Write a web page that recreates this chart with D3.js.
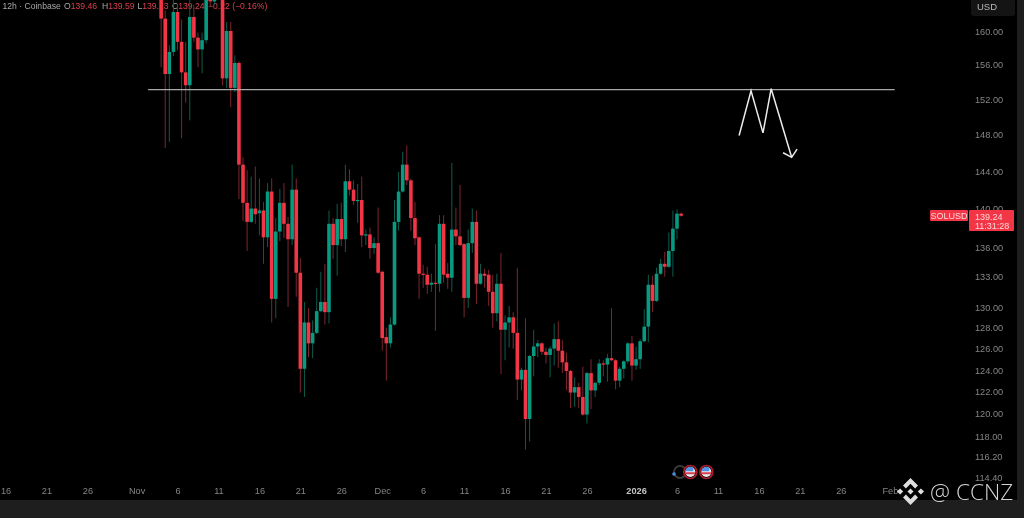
<!DOCTYPE html>
<html><head><meta charset="utf-8">
<style>
html,body{margin:0;padding:0;background:#000;overflow:hidden}
svg{display:block;filter:blur(0.35px)}
text{font-family:"Liberation Sans",Arial,sans-serif}
</style>
<script src="https://cdn.jsdelivr.net/npm/d3@7/dist/d3.min.js"></script>
</head><body><svg id="c" width="1024" height="518"></svg>
<script>
const firstCandle = "2025-11-04T00:00:00Z";
const opens = [167,161.5,154.9,157.5,162.3,158.7,155.1,153.6,161.7,159.2,157.8,158.9,166.3,163.6,165.5,165,154.4,160,153.3,156.2,144.7,140.6,138.6,140,139.5,139.8,137,141.8,130.8,137.6,140.6,138.4,136.8,142,133.4,124.1,128.5,126.5,127.5,129.6,130.5,129.5,138.4,136.2,138.9,136.8,142.9,142,140.8,140.9,137.2,137.3,135.9,136.4,133.5,127.1,126.5,128.3,138.6,141.8,144.7,143,139,137,133.3,133.2,132.2,132.4,132.3,138.4,133.3,132.9,137.8,137.1,136.3,130.9,136.4,138.6,132.3,133.3,133.2,131.5,129.4,132.3,127.8,128.5,129,127.5,123.1,124,119.5,125.3,126.2,126.5,125.7,125.4,126,126.9,125.8,124.7,123.9,121.9,122.4,121.5,119.9,123.7,122.1,122.8,124.6,124.5,125.1,124.9,123,124.1,124.8,126.5,124.4,125,126.7,128.1,132.2,130.6,133.3,134.3,134,135.6,137.9,139.46];
const highs = [168,162.5,158.3,163.8,163.2,161.4,158.7,164,163.2,159.8,159.8,167,167,166,166,166,161.1,161.1,157.1,156.4,145.5,144.1,143.4,144.5,143.2,140.7,142.7,143.2,139,142.1,142.7,139.1,144.7,143.2,134.9,130.5,129.9,128.7,131.9,133.5,134.3,139.8,139,140.5,140.6,144.7,144.2,143,142.6,143.4,137.8,138,137,140.1,133.6,128,129,140.9,143.9,146.1,146.8,143.2,140.7,137.1,134.2,134,133.3,136.3,139.3,139.3,134.4,144.9,140.1,142.5,136.4,137.8,140,139.8,134.3,133.8,133.7,133.2,133.3,135.4,129.2,130.1,129.5,133.9,124.2,128.9,125.4,127.8,126.8,126.6,126.1,126.2,128.4,128.6,126.8,125.6,124,123.3,122.8,124.3,123.8,125,122.9,125,124.9,125.5,129.9,125,124.3,124.9,126.6,127.2,126.2,126.9,129.8,133.2,133.1,133.9,134.8,135.5,137.5,139.8,139.9,139.59];
const lows = [155.7,146.5,147.2,157,157.7,147.6,151.6,149.6,158.7,155.7,155,158.5,163,163.2,164.5,153.6,153.3,151.1,152.8,141,138.7,135.6,138.5,138.4,137.2,134.3,136,128.5,128.9,136.6,136.9,130,136.2,131,121.9,121.5,125.2,125.1,127.4,129.5,128.3,128.4,134.8,133.1,136.1,135.5,141.4,140.4,138.5,136,136.2,134.8,135.3,133.3,125.8,123,126.1,128.2,137.7,141.7,142.5,137.7,136.2,130.8,131.9,131.3,131.5,127.7,131.5,132.4,131.8,131.5,136.2,136.1,129,129.9,135.4,130.3,132.2,131.9,130.1,128,128.6,123.6,124.9,126.1,126,121.2,122.1,116.8,117.5,123.4,125.2,125.4,124.6,123.3,124.4,124.2,123.7,122.1,120.5,120.6,120.5,119.8,119.1,120.4,121.5,122.6,123.4,122.9,124.8,122.2,122.4,123.2,124.6,123,124,124.1,126.6,126.6,129.5,130.5,133.2,133,133.9,133,136.8,139.13];
const closes = [161.5,154.9,157.5,162.3,158.7,155.1,153.6,161.7,159.2,157.8,158.9,165.6,163.6,165.5,164.9,154.4,160,153.3,156.2,144.7,140.6,138.6,140,139.4,139.8,137,141.8,130.8,137.6,140.6,138.4,136.8,142,133.4,124.1,128.5,126.5,127.5,129.6,130.5,129.5,138.4,136.2,138.9,136.8,142.9,142,140.8,140.9,137.2,137.3,135.9,136.4,133.4,127,126.5,128.3,138.6,141.8,144.7,143,139,136.9,133.3,133.2,132.2,132.4,132.3,138.4,133.2,132.9,137.8,137.1,136.2,130.9,136.4,138.6,132.3,133.3,133.1,131.5,129.4,132.3,127.8,128.5,129,127.5,123.1,124,119.5,125.3,126.2,126.5,125.7,125.4,126,126.9,125.8,124.7,123.9,121.9,122.4,121.5,119.9,123.7,122.1,122.8,124.6,124.5,125.1,124.9,123,124.1,124.8,126.5,124.4,125,126.7,128.1,132.2,130.6,133.3,134.3,134,135.6,137.9,139.46,139.24];

const priceTicks = [160,156,152,148,144,140,136,133,130,128,126,124,122,120,118,116.2,114.4];
const timeTicks = ["2025-10-16","2025-10-21","2025-10-26","2025-11-01","2025-11-06","2025-11-11","2025-11-16","2025-11-21","2025-11-26","2025-12-01","2025-12-06","2025-12-11","2025-12-16","2025-12-21","2025-12-26","2026-01-01","2026-01-06","2026-01-11","2026-01-16","2026-01-21","2026-01-26","2026-02-01"];
const timeLabels = ["16","21","26","Nov","6","11","16","21","26","Dec","6","11","16","21","26","2026","6","11","16","21","26","Feb"];

const levelPrice = 153.1;
const levelDates = ["2025-11-02T10:00:00Z","2026-02-01T14:00:00Z"];
const patternDates = ["2026-01-13T14:00:00Z","2026-01-15T01:00:00Z","2026-01-16T12:00:00Z","2026-01-17T12:00:00Z","2026-01-20T00:00:00Z"];
const patternPrices = [147.9,152.95,148.2,153.2,145.5];
const headDates = ["2026-01-18T23:00:00Z","2026-01-20T00:00:00Z","2026-01-20T16:00:00Z"];
const headPrices = [146,145.5,146.4];
const eventDates = ["2026-01-07T15:00:00Z","2026-01-09T14:00:00Z"];

const UP="#089981", DOWN="#f23645", UPW="#0c5c4d", DOWNW="#7d2530";
const svg=d3.select("#c");
svg.append("rect").attr("width",1024).attr("height",518).attr("fill","#000");

const x=d3.scaleUtc().domain([new Date("2025-11-06T00:00:00Z"),new Date("2026-01-06T00:00:00Z")]).range([177.5,677]);
const y=d3.scaleLog().domain([114.4,160]).range([477,31]);

// legend under the candles
svg.append("text").attr("x",2.5).attr("y",9).attr("font-size",8.6).attr("fill","#a8a8a8").text("12h · Coinbase");
[["O","139.46",64],["H","139.59",102],["L","139.13",137.5],["C","139.24",172]].forEach(d=>{
  const t=svg.append("text").attr("x",d[2]).attr("y",9).attr("font-size",8.6);
  t.append("tspan").attr("fill","#a8a8a8").text(d[0]);
  t.append("tspan").attr("fill","#d9404e").text(d[1]);
});
svg.append("text").attr("x",208).attr("y",9).attr("font-size",8.6).attr("fill","#d9404e").text("−0.22 (−0.16%)");

const t0=new Date(firstCandle);
const candleDate=i=>d3.utcHour.offset(t0,i*12);
const idx=d3.range(opens.length);
const g=svg.append("g");
g.selectAll(".w").data(idx).join("rect").attr("class","w")
 .attr("x",i=>x(candleDate(i))-0.5).attr("width",1)
 .attr("y",i=>y(highs[i])).attr("height",i=>y(lows[i])-y(highs[i]))
 .attr("fill",i=>closes[i]>=opens[i]?UPW:DOWNW);
g.selectAll(".b").data(idx).join("rect").attr("class","b")
 .attr("x",i=>x(candleDate(i))-1.8).attr("width",3.6)
 .attr("y",i=>y(Math.max(opens[i],closes[i])))
 .attr("height",i=>Math.max(1.2,Math.abs(y(opens[i])-y(closes[i]))))
 .attr("fill",i=>closes[i]>=opens[i]?UP:DOWN);

// drawings
svg.append("line").attr("x1",x(new Date(levelDates[0]))).attr("x2",x(new Date(levelDates[1])))
 .attr("y1",y(levelPrice)).attr("y2",y(levelPrice)).attr("stroke","#a8a8a8").attr("stroke-width",1.3);
const ln=d3.line().x(d=>x(new Date(d[0]))).y(d=>y(d[1]));
svg.append("path").attr("d",ln(d3.zip(patternDates,patternPrices))).attr("fill","none").attr("stroke","#ececec").attr("stroke-width",1.5);
svg.append("path").attr("d",ln(d3.zip(headDates,headPrices))).attr("fill","none").attr("stroke","#ececec").attr("stroke-width",1.5);

// bottom and right chrome
svg.append("rect").attr("x",0).attr("y",500).attr("width",1024).attr("height",18).attr("fill","#1e1e1e");
svg.append("rect").attr("x",1017).attr("y",0).attr("width",7).attr("height",518).attr("fill","#1e1e1e");
svg.append("rect").attr("x",971).attr("y",-4).attr("width",44).attr("height",20).attr("rx",3).attr("fill","#141414");
svg.append("text").attr("x",977).attr("y",10).attr("font-size",9.5).attr("fill","#b8b8b8").text("USD");

// axes
const ya=d3.axisRight(y).tickValues(priceTicks).tickSize(0).tickPadding(0).tickFormat(d=>d.toFixed(2));
const yg=svg.append("g").attr("transform","translate(975,0.3)").call(ya);
yg.select(".domain").remove();
yg.selectAll("text").attr("font-size",9.2).attr("fill","#858585").style("font-family",'"Liberation Sans",Arial,sans-serif');
const tickDates=timeTicks.map(d=>new Date(d+"T00:00:00Z"));
const xa=d3.axisBottom(x).tickValues(tickDates).tickSize(0).tickPadding(0).tickFormat((d,i)=>timeLabels[i]);
const xg=svg.append("g").attr("transform","translate(0,487)").call(xa);
xg.select(".domain").remove();
xg.selectAll("text").attr("font-size",9.2).attr("fill","#858585").style("font-family",'"Liberation Sans",Arial,sans-serif');
xg.selectAll("text").filter((d,i)=>timeLabels[i]==="2026").attr("fill","#c4c4c4").attr("font-weight","bold");

// price tag
svg.append("rect").attr("x",930).attr("y",210).attr("width",38).attr("height",11).attr("rx",1).attr("fill",DOWN);
svg.append("text").attr("x",949).attr("y",219).attr("text-anchor","middle").attr("font-size",9).attr("fill","#fbd5d9").text("SOLUSD");
svg.append("rect").attr("x",969).attr("y",210).attr("width",45).attr("height",21).attr("rx",1).attr("fill",DOWN);
svg.append("text").attr("x",975).attr("y",219.5).attr("font-size",9).attr("fill","#fbd5d9").text(closes[closes.length-1].toFixed(2));
svg.append("text").attr("x",975).attr("y",229).attr("font-size",9).attr("fill","#fbd5d9").text("11:31:28");

// event markers
const ey=472;
svg.append("circle").attr("cx",680).attr("cy",ey).attr("r",6).attr("fill","#000").attr("stroke","#3a3a3a").attr("stroke-width",1.8);
svg.append("circle").attr("cx",674).attr("cy",ey+2).attr("r",1.8).attr("fill","#4a8fe0");
const ev=svg.selectAll(".ev").data(eventDates).join("g").attr("class","ev").attr("transform",d=>`translate(${x(new Date(d))},${ey})`);
ev.append("circle").attr("r",6.5).attr("fill","#111").attr("stroke","#a81c2c").attr("stroke-width",1.7);
ev.append("circle").attr("r",5).attr("fill","#e9e9ee");
ev.append("path").attr("d","M-5,0.2H5A5,5 0 0 1 4.4,2.3H-4.4A5,5 0 0 1 -5,0.2Z").attr("fill","#d8414f");
ev.append("path").attr("d","M-3.5,-3.6A5,5 0 0 1 3,-4V-0.8H-4.9A5,5 0 0 1 -3.5,-3.6Z").attr("fill","#4f93e6");

// watermark
const wm=svg.append("g").attr("transform","translate(910.5,491.5)").attr("fill","#dedede");
wm.append("path").attr("d","M0,-13.5L7.5,-6L4.6,-3.1L0,-7.7L-4.6,-3.1L-7.5,-6Z");
wm.append("path").attr("d","M0,13.5L7.5,6L4.6,3.1L0,7.7L-4.6,3.1L-7.5,6Z");
wm.append("path").attr("d","M0,-3L3,0L0,3L-3,0Z");
wm.append("path").attr("d","M-13.5,0L-10.4,-3.1L-7.3,0L-10.4,3.1Z");
wm.append("path").attr("d","M13.5,0L10.4,-3.1L7.3,0L10.4,3.1Z");
svg.append("text").attr("x",930).attr("y",500).attr("font-size",22.6).attr("font-weight",300).style("font-family",'"Open Sans",sans-serif').attr("fill","#d4d4d4").text("@ CCNZ");
</script></body></html>
